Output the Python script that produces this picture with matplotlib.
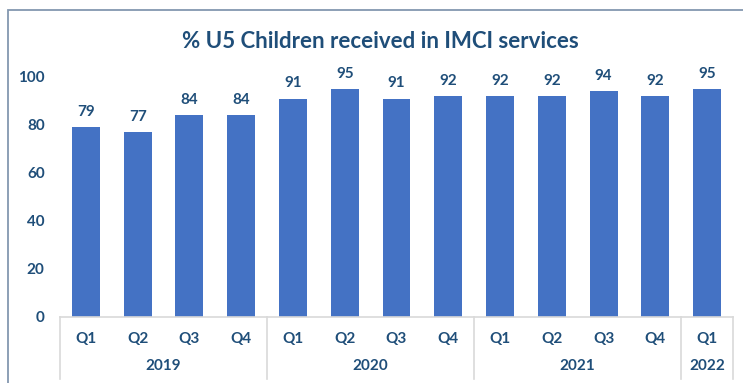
import matplotlib.pyplot as plt
from matplotlib.patches import Rectangle
import numpy as np

quarters = ['Q1', 'Q2', 'Q3', 'Q4', 'Q1', 'Q2', 'Q3', 'Q4', 'Q1', 'Q2', 'Q3', 'Q4', 'Q1']
years = ['2019', '2020', '2021', '2022']
year_counts = [4, 4, 4, 1]
values = [79, 77, 84, 84, 91, 95, 91, 92, 92, 92, 94, 92, 95]

plt.rcParams['font.family'] = ['Lato', 'DejaVu Sans']
txt = '#1F4E79'
W, H = 743, 383

fig = plt.figure(figsize=(W / 100, H / 100), dpi=100)
ax = fig.add_axes([60 / W, 1 - 317 / H, 673 / W, 240 / H])

x = np.arange(len(values))
ax.bar(x, values, width=0.54, color='#4472C4', zorder=2)
for xi, v in zip(x, values):
    ax.text(xi, v + 3.5, str(v), ha='center', va='bottom', fontsize=11,
            fontweight='bold', color=txt)

ax.set_xlim(-0.5, len(values) - 0.5)
ax.set_ylim(0, 100)
ax.set_yticks(np.arange(0, 101, 20))
ax.tick_params(axis='y', length=0, pad=11, labelsize=11, labelcolor=txt)
for lab in ax.get_yticklabels():
    lab.set_fontweight('bold')
ax.set_xticks([])
for s in ['top', 'right', 'left']:
    ax.spines[s].set_visible(False)
ax.spines['bottom'].set_color('#D9D9D9')
ax.spines['bottom'].set_linewidth(1.2)

# quarter and year labels under the axis
lab_tr = ax.get_xaxis_transform()
for xi, q in zip(x, quarters):
    ax.text(xi, -22 / 240, q, transform=lab_tr, ha='center', va='center',
            fontsize=11, fontweight='bold', color=txt)

bounds = np.concatenate(([0], np.cumsum(year_counts))) - 0.5
for b in bounds:
    ax.plot([b, b], [0, -62 / 240], transform=lab_tr, color='#D9D9D9',
            lw=1.2, clip_on=False)
for i, yr in enumerate(years):
    mid = (bounds[i] + bounds[i + 1]) / 2
    ax.text(mid, -49 / 240, yr, transform=lab_tr, ha='center', va='center',
            fontsize=11, fontweight='bold', color=txt)

fig.text(380 / W, 1 - 42 / H, '% U5 Children received in IMCI services', ha='center',
         va='center', fontsize=16, fontweight='bold', color=txt)

# chart frame (top and left edges visible)
fig.patches.append(Rectangle((8 / W, -0.1), 1.2, 1 - 10 / H + 0.1,
                             transform=fig.transFigure, fill=False,
                             edgecolor='#8497B0', lw=1.3))

fig.savefig('out.png', dpi=100)
